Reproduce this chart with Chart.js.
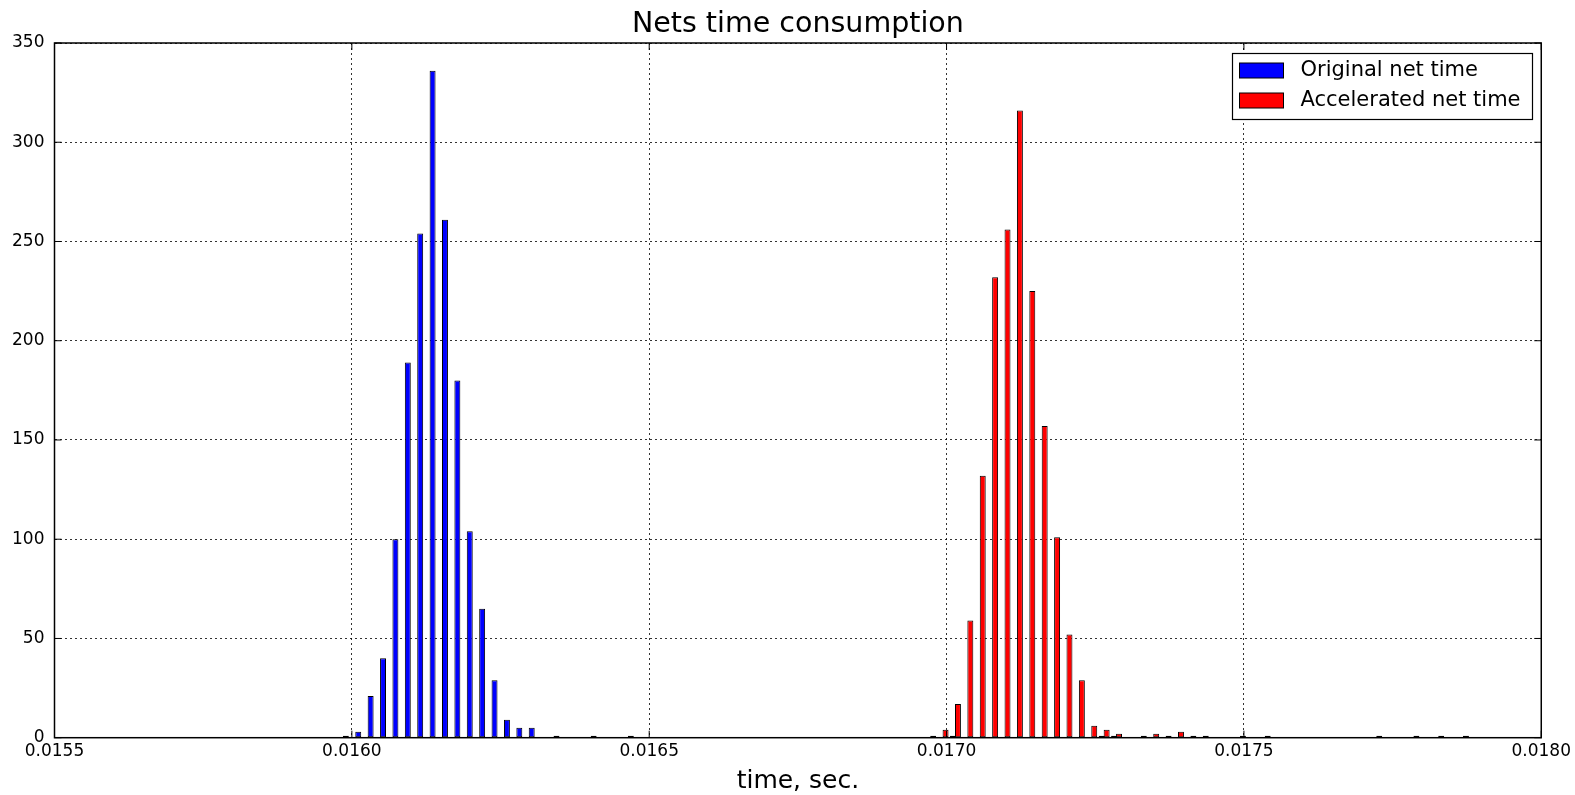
<!DOCTYPE html>
<html lang="en">
<head>
<meta charset="UTF-8">
<title>Nets time consumption</title>
<script src="https://cdn.jsdelivr.net/npm/chart.js"></script>
<style>
  html, body { margin: 0; padding: 0; background: #ffffff; }
  #chart { display: block; }
</style>
</head>
<body>
<canvas id="chart" width="1575" height="795"></canvas>
<script>
// histogram bins (bin centre, sec.) and counts
const origTime = [0.01599408, 0.01601492, 0.01603575, 0.01605659, 0.01607742, 0.01609826,
                  0.01611909, 0.01613993, 0.01616076, 0.01618160, 0.01620243, 0.01622327,
                  0.01624410, 0.01626494, 0.01628577, 0.01630661, 0.01634828, 0.01641078,
                  0.01647329, 0.01701500, 0.01726502, 0.01728585];
const origCount = [1, 3, 21, 40, 100, 189, 254, 336, 261, 180, 104, 65, 29, 9, 5, 5, 1, 1, 1, 1, 1, 1];

const accTime = [0.01697333, 0.01699416, 0.01701500, 0.01703583, 0.01705667, 0.01707750,
                 0.01709834, 0.01711917, 0.01714001, 0.01716084, 0.01718168, 0.01720251,
                 0.01722335, 0.01724418, 0.01726502, 0.01728585, 0.01732752, 0.01734836,
                 0.01736919, 0.01739003, 0.01741086, 0.01743170, 0.01749420, 0.01753587,
                 0.01772339, 0.01778589, 0.01782756, 0.01786923];
const accCount = [1, 4, 17, 59, 132, 232, 256, 316, 225, 157, 101, 52, 29, 6, 4, 2,
                  1, 2, 1, 3, 1, 1, 1, 1, 1, 1, 1, 1];

const seriesNames = ['Original net time', 'Accelerated net time'];
const seriesColors = ['#0000ff', '#ff0000'];
const chartTitle = 'Nets time consumption';

Chart.defaults.font.family = '"DejaVu Sans", sans-serif';
Chart.defaults.color = '#000';

// title over the axes, frame, inward tick marks and the boxed legend
const framePlugin = {
    id: 'frame',
    afterDraw(chart) {
        const { ctx, chartArea: a, scales } = chart;
        ctx.save();

        ctx.fillStyle = '#000';
        ctx.font = '28.5px "DejaVu Sans"';
        ctx.textAlign = 'center';
        ctx.textBaseline = 'alphabetic';
        ctx.fillText(chartTitle, (a.left + a.right) / 2, 32);

        ctx.strokeStyle = '#000';
        ctx.lineWidth = 1;
        ctx.beginPath();
        scales.x.ticks.forEach(t => {
            const px = scales.x.getPixelForValue(t.value);
            ctx.moveTo(px, a.bottom); ctx.lineTo(px, a.bottom - 7);
            ctx.moveTo(px, a.top); ctx.lineTo(px, a.top + 7);
        });
        scales.y.ticks.forEach(t => {
            const py = scales.y.getPixelForValue(t.value);
            ctx.moveTo(a.left, py); ctx.lineTo(a.left + 7, py);
            ctx.moveTo(a.right, py); ctx.lineTo(a.right - 7, py);
        });
        ctx.stroke();
        ctx.lineWidth = 1.5;
        ctx.strokeRect(a.left, a.top, a.right - a.left, a.bottom - a.top);

        // legend
        const bx = 1232.5, by = 53.5, bw = 300, bh = 66;
        ctx.fillStyle = '#fff';
        ctx.fillRect(bx, by, bw, bh);
        ctx.lineWidth = 1.2;
        ctx.strokeRect(bx, by, bw, bh);
        ctx.font = '21px "DejaVu Sans"';
        ctx.textBaseline = 'middle';
        ctx.textAlign = 'left';
        chart.data.datasets.forEach((ds, i) => {
            const cy = by + 17 + i * 30;
            ctx.fillStyle = ds.backgroundColor;
            ctx.fillRect(bx + 7, cy - 7.5, 44, 15);
            ctx.lineWidth = 1;
            ctx.strokeRect(bx + 7, cy - 7.5, 44, 15);
            ctx.fillStyle = '#000';
            ctx.fillText(ds.label, bx + 68, cy);
        });
        ctx.restore();
    }
};

const toPoints = (xs, ys) => xs.map((x, i) => ({ x: x, y: ys[i] }));

new Chart(document.getElementById('chart'), {
    type: 'bar',
    data: {
        datasets: [
            {
                label: seriesNames[0],
                data: toPoints(origTime, origCount),
                backgroundColor: seriesColors[0],
                borderColor: '#000',
                borderWidth: 1,
                borderSkipped: false,
                categoryPercentage: 0.8,
                barPercentage: 1.2
            },
            {
                label: seriesNames[1],
                data: toPoints(accTime, accCount),
                backgroundColor: seriesColors[1],
                borderColor: '#000',
                borderWidth: 1,
                borderSkipped: false,
                categoryPercentage: 0.8,
                barPercentage: 1.2
            }
        ]
    },
    options: {
        responsive: false,
        animation: false,
        devicePixelRatio: 1,
        layout: { padding: { left: 0, right: 33, top: 43, bottom: 0 } },
        plugins: {
            legend: { display: false },
            tooltip: { enabled: false },
            title: { display: false }
        },
        scales: {
            x: {
                type: 'linear',
                min: 0.0155,
                max: 0.0180,
                offset: false,
                grid: { offset: false, color: 'rgba(0,0,0,0.8)', lineWidth: 1, drawTicks: false },
                border: { display: false, dash: [2, 3] },
                ticks: {
                    stepSize: 0.0005,
                    maxRotation: 0,
                    autoSkip: false,
                    padding: 4,
                    font: { size: 17 },
                    color: '#000',
                    callback: v => v.toFixed(4)
                },
                title: {
                    display: true,
                    text: 'time, sec.',
                    font: { size: 25, lineHeight: 1 },
                    color: '#000',
                    padding: { top: 0, bottom: 1.5 }
                },
                afterFit: s => { s.height = 57.3; }
            },
            y: {
                min: 0,
                max: 350,
                grid: { color: 'rgba(0,0,0,0.8)', lineWidth: 1, drawTicks: false },
                border: { display: false, dash: [2, 3] },
                ticks: {
                    stepSize: 50,
                    padding: 10,
                    font: { size: 17 },
                    color: '#000'
                },
                afterFit: s => { s.width = 54.5; }
            }
        }
    },
    plugins: [framePlugin]
});
</script>
</body>
</html>
